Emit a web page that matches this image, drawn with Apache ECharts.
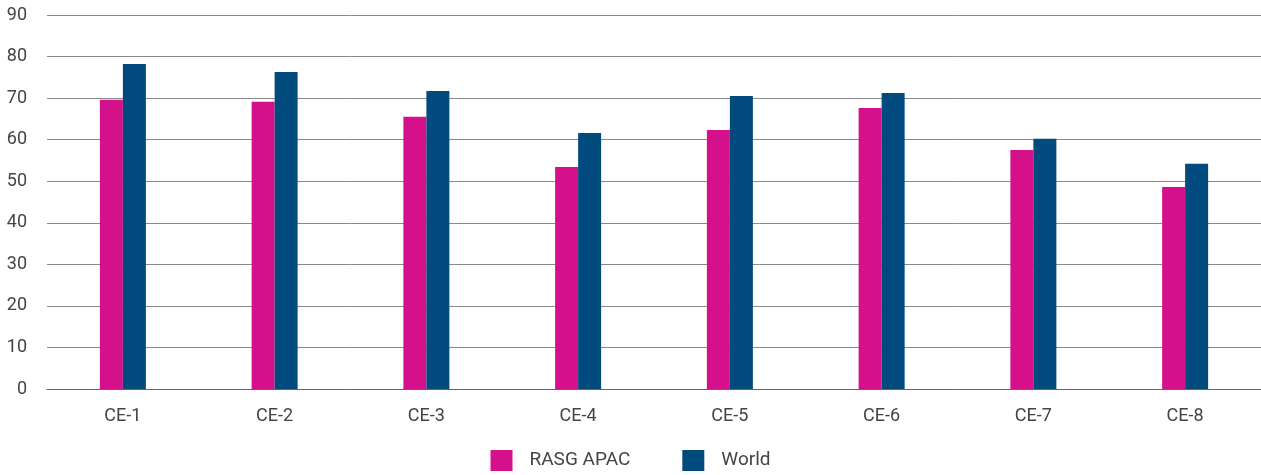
<!DOCTYPE html>
<html><head><meta charset="utf-8">
<script src="https://cdn.jsdelivr.net/npm/echarts@6/dist/echarts.min.js"></script>
<style>html,body{margin:0;padding:0;background:#fff}#c{width:1261px;height:475px}</style>
</head><body><div id="c"></div>
<script>
const categories = ['CE-1','CE-2','CE-3','CE-4','CE-5','CE-6','CE-7','CE-8'];
const rasgApac = [69.6, 69.1, 65.5, 53.4, 62.3, 67.6, 57.5, 48.6];
const world = [78.2, 76.3, 71.7, 61.6, 70.5, 71.2, 60.2, 54.2];
const seriesNames = ['RASG APAC', 'World'];
const chart = echarts.init(document.getElementById('c'), null, {renderer:'canvas'});
chart.setOption({
  animation:false,
  textStyle:{fontFamily:'Roboto'},
  grid:{left:47,right:0,top:15,bottom:86,containLabel:false},
  legend:{
    top:445,left:'center',
    itemWidth:22,itemHeight:21,itemGap:52,
    icon:'rect',
    textStyle:{fontSize:19,color:'#444',fontFamily:'Roboto',padding:[0,0,0,12]},
    data:seriesNames
  },
  xAxis:{
    type:'category',data:categories,
    axisLine:{lineStyle:{color:'#666',width:1}},
    axisTick:{show:false},
    axisLabel:{fontSize:18,color:'#444',margin:18,fontFamily:'Roboto'}
  },
  yAxis:{
    type:'value',min:0,max:90,interval:10,
    axisLine:{show:false},axisTick:{show:false},
    axisLabel:{fontSize:18,color:'#444',margin:20,fontFamily:'Roboto'},
    splitLine:{lineStyle:{color:'#8a8a8a',width:1}}
  },
  series:[
    {name:seriesNames[0],type:'bar',data:rasgApac,barWidth:23,barGap:'0%',itemStyle:{color:'#D5108B'}},
    {name:seriesNames[1],type:'bar',data:world,barWidth:23,barGap:'0%',itemStyle:{color:'#004A7D'}}
  ]
});
</script></body></html>
